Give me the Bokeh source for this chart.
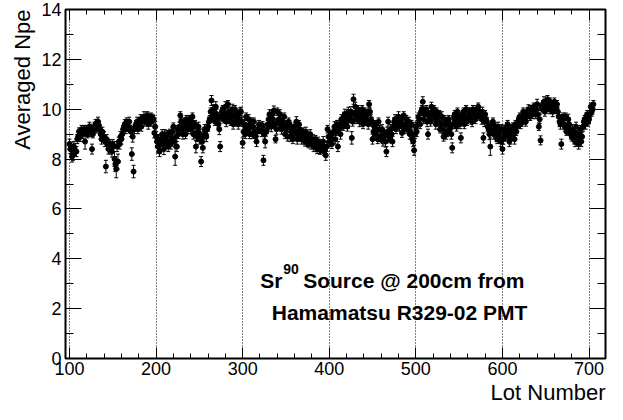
import math
from bokeh.plotting import figure
from bokeh.models import (ColumnDataSource, Whisker, TeeHead, Label, LinearAxis,
                          FixedTicker, Range1d, Title)
from bokeh.embed import file_html
from bokeh.resources import INLINE

# ---------------- data ----------------
# even lots 100, 102, ..., 704
npe_even = [
    8.6, 8.5, 8.2, 8.4, 8.3, 8.9, 9.0, 9.2, 9.1, 8.7,
    9.2, 9.1, 9.25, 8.4, 9.2, 9.4, 9.45, 9.35, 9.0, 9.1,
    8.9, 7.7, 8.6, 8.5, 8.4, 8.6, 8.0, 7.6, 7.9, 8.6,
    8.8, 9.2, 9.4, 9.5, 9.3, 9.2, 8.2, 7.5, 9.3, 9.5,
    9.4, 9.6, 9.5, 9.7, 9.6, 9.75, 9.5, 9.7, 9.65, 9.05,
    8.9, 8.5, 8.3, 8.8, 8.6, 9.0, 8.7, 8.5, 9.05, 8.8,
    9.3, 8.1, 8.5, 9.0, 9.75, 9.2, 9.5, 9.0, 9.4, 9.6,
    9.2, 9.7, 9.3, 8.5, 9.1, 8.8, 7.9, 8.45, 9.2, 8.9,
    9.3, 9.6, 10.35, 10.0, 9.5, 9.8, 9.4, 8.5, 9.9, 9.6,
    10.1, 9.7, 9.9, 9.5, 10.0, 9.7, 9.5, 9.8, 9.6, 9.9,
    8.65, 9.4, 9.7, 9.2, 9.0, 9.5, 9.3, 9.1, 8.7, 9.2,
    9.3, 9.1, 7.95, 8.7, 9.2, 9.6, 9.5, 9.8, 9.95, 8.8,
    9.9, 9.6, 9.3, 9.5, 9.7, 9.2, 8.9, 9.4, 9.1, 8.8,
    9.3, 9.5, 9.0, 9.2, 8.8, 9.1, 8.7, 8.9, 8.6, 9.0,
    8.7, 8.5, 8.8, 8.4, 8.6, 8.35, 8.5, 8.3, 8.15, 9.2,
    8.7, 9.0, 8.8, 9.3, 9.1, 8.5, 9.4, 9.6, 9.3, 9.8,
    9.5, 9.9, 9.6, 8.85, 10.4, 10.1, 9.7, 9.9, 9.6, 10.0,
    9.7, 9.5, 9.8, 10.2, 9.6, 8.8, 9.3, 9.0, 8.8, 9.2,
    8.9, 8.7, 9.0, 8.3, 9.5, 8.8, 9.0, 9.3, 9.6, 9.4,
    9.7, 9.5, 9.05, 9.75, 9.4, 9.2, 9.5, 9.1, 8.8, 8.35,
    9.3, 9.4, 9.6, 9.9, 10.3, 9.8, 10.0, 9.0, 9.7, 10.1,
    9.8, 9.6, 9.9, 9.5, 9.2, 9.7, 8.9, 9.4, 9.1, 9.6,
    9.3, 8.45, 9.7, 9.5, 9.9, 9.6, 8.85, 9.8, 9.4, 10.0,
    9.7, 9.9, 9.6, 10.0, 9.8, 9.7, 10.1, 9.9, 9.6, 8.85,
    9.8, 9.5, 9.2, 8.5, 9.4, 9.0, 9.3, 8.8, 9.1, 8.7,
    8.4, 9.2, 8.9, 9.4, 8.7, 9.0, 9.3, 8.8, 9.1, 9.5,
    9.7, 9.5, 9.9, 9.6, 9.8, 10.0, 9.7, 9.9, 10.1, 9.8,
    10.2, 9.3, 8.75, 10.0, 10.3, 10.1, 10.4, 10.0, 10.2, 9.9,
    10.3, 10.1, 9.9, 9.5, 8.6, 9.7, 9.3, 9.1, 9.6, 9.2,
    8.9, 9.1, 8.7, 9.0, 8.6, 9.2, 8.9, 9.5, 9.4, 9.8,
    9.6, 10.1, 10.0,
]
err_even = [
    20, 18, 25, 22, 20, 20, 18, 15, 15, 30,
    15, 18, 15, 20, 15, 18, 15, 15, 20, 18,
    20, 25, 20, 22, 20, 18, 30, 35, 30, 20,
    20, 15, 18, 15, 20, 15, 25, 25, 15, 18,
    15, 18, 15, 20, 15, 15, 18, 15, 15, 20,
    20, 25, 20, 15, 20, 18, 15, 20, 15, 18,
    15, 35, 20, 18, 15, 20, 15, 18, 15, 15,
    18, 15, 20, 25, 18, 20, 20, 20, 18, 20,
    18, 15, 20, 18, 15, 20, 15, 20, 18, 15,
    20, 15, 18, 15, 20, 15, 18, 15, 15, 18,
    20, 18, 15, 20, 18, 15, 20, 15, 20, 15,
    15, 20, 20, 25, 18, 15, 20, 15, 18, 15,
    15, 20, 18, 15, 15, 20, 18, 15, 20, 18,
    15, 20, 18, 15, 20, 15, 18, 20, 15, 18,
    15, 20, 15, 18, 20, 15, 18, 15, 20, 15,
    20, 15, 18, 20, 15, 20, 15, 18, 15, 20,
    15, 18, 15, 25, 20, 18, 20, 15, 18, 15,
    18, 15, 20, 15, 18, 20, 15, 20, 18, 15,
    20, 18, 15, 20, 18, 15, 20, 15, 18, 15,
    20, 15, 18, 15, 20, 15, 18, 15, 18, 20,
    18, 15, 20, 15, 20, 18, 15, 20, 15, 18,
    15, 20, 15, 18, 15, 20, 18, 15, 20, 15,
    18, 20, 15, 18, 15, 20, 20, 15, 18, 15,
    18, 15, 20, 15, 18, 15, 15, 18, 20, 20,
    15, 18, 20, 35, 15, 20, 15, 18, 15, 20,
    20, 15, 18, 15, 20, 18, 15, 20, 15, 18,
    15, 18, 15, 20, 15, 18, 15, 20, 15, 18,
    20, 15, 18, 15, 20, 15, 15, 18, 15, 20,
    15, 18, 15, 20, 20, 15, 18, 15, 20, 15,
    18, 15, 20, 15, 20, 15, 18, 15, 20, 15,
    18, 15, 20,
]
# odd lots 101, 103, ..., 705
npe_odd = [
    8.4, 8.1, 8.5, 8.3, 8.8, 9.1, 8.9, 9.0, 9.2, 9.1,
    9.0, 9.3, 9.1, 9.0, 9.3, 9.2, 9.5, 9.2, 8.8, 8.9,
    8.7, 8.8, 8.4, 8.6, 8.3, 8.5, 7.8, 8.5, 8.7, 8.9,
    9.0, 9.3, 9.2, 9.4, 9.5, 9.1, 8.9, 9.2, 9.4, 9.2,
    9.5, 9.3, 9.6, 9.5, 9.7, 9.4, 9.6, 9.5, 9.6, 9.3,
    8.7, 8.8, 8.6, 9.0, 8.4, 8.8, 9.0, 8.7, 8.6, 9.1,
    8.7, 8.9, 9.2, 9.3, 9.5, 9.0, 9.3, 9.6, 9.2, 9.4,
    9.5, 9.0, 9.4, 8.9, 9.3, 9.0, 8.7, 8.9, 9.0, 9.2,
    9.5, 9.9, 9.7, 9.8, 10.1, 9.6, 9.2, 9.7, 10.0, 9.8,
    9.5, 10.2, 9.6, 9.8, 9.4, 10.0, 9.7, 9.4, 9.9, 9.5,
    9.1, 9.0, 9.3, 9.6, 9.3, 9.0, 9.5, 8.9, 9.1, 9.4,
    9.2, 9.35, 9.0, 9.1, 9.4, 9.8, 9.3, 9.6, 9.4, 9.2,
    9.5, 9.8, 9.2, 9.4, 9.0, 9.3, 9.5, 8.9, 9.2, 9.0,
    9.1, 8.8, 9.4, 8.9, 9.0, 8.8, 9.1, 8.7, 8.8, 8.6,
    8.8, 8.6, 8.5, 8.7, 8.4, 8.6, 8.7, 8.4, 8.5, 8.9,
    8.9, 8.6, 9.1, 8.8, 9.4, 9.2, 9.0, 9.5, 9.7, 9.4,
    9.3, 9.7, 9.9, 9.5, 9.8, 9.6, 10.0, 9.5, 9.8, 9.4,
    9.9, 9.6, 9.4, 9.9, 9.5, 9.1, 9.4, 9.2, 9.5, 8.9,
    9.2, 8.9, 8.7, 9.1, 8.9, 9.2, 8.7, 9.5, 9.2, 9.6,
    9.3, 9.6, 9.4, 9.2, 9.6, 9.3, 9.0, 9.4, 8.7, 9.0,
    9.1, 9.7, 9.4, 10.0, 9.6, 9.9, 9.5, 9.8, 9.5, 9.9,
    10.0, 9.4, 9.7, 9.8, 9.4, 9.2, 9.6, 9.0, 9.5, 9.2,
    9.0, 9.4, 9.8, 9.3, 9.7, 9.4, 9.6, 9.9, 9.7, 9.5,
    9.9, 9.8, 9.5, 9.9, 9.6, 10.0, 9.8, 9.7, 9.9, 9.5,
    9.6, 9.3, 9.0, 9.2, 9.5, 9.2, 8.9, 9.3, 8.9, 9.2,
    8.8, 9.0, 9.3, 9.1, 8.8, 9.2, 9.0, 9.4, 9.3, 9.6,
    9.4, 9.7, 9.8, 9.5, 9.9, 9.8, 10.0, 9.8, 9.9, 10.0,
    9.8, 9.6, 10.1, 10.2, 9.9, 10.2, 10.1, 10.3, 10.0, 10.2,
    10.0, 10.2, 9.7, 9.4, 9.6, 9.4, 9.7, 9.2, 9.4, 9.0,
    9.2, 8.8, 9.3, 8.8, 9.0, 8.7, 9.3, 9.6, 9.7, 9.5,
    9.8, 9.9, 10.2,
]
err_odd = [
    18, 22, 20, 20, 18, 15, 20, 18, 15, 18,
    15, 18, 20, 15, 18, 15, 18, 15, 20, 18,
    20, 18, 20, 18, 22, 20, 30, 20, 18, 20,
    18, 15, 18, 15, 18, 20, 22, 18, 15, 18,
    15, 18, 15, 18, 15, 20, 15, 18, 15, 20,
    20, 18, 20, 18, 22, 18, 15, 20, 20, 18,
    20, 18, 15, 18, 15, 20, 18, 15, 18, 15,
    18, 20, 15, 20, 18, 20, 22, 20, 18, 20,
    18, 15, 18, 15, 20, 18, 22, 18, 15, 18,
    20, 15, 18, 15, 20, 15, 18, 20, 15, 18,
    20, 18, 15, 18, 20, 18, 15, 20, 18, 15,
    18, 15, 20, 18, 15, 18, 20, 15, 18, 20,
    15, 18, 20, 15, 18, 20, 15, 20, 18, 20,
    18, 20, 15, 20, 18, 20, 18, 20, 18, 20,
    18, 20, 20, 18, 20, 18, 20, 18, 20, 18,
    20, 18, 15, 20, 15, 18, 20, 15, 18, 15,
    18, 15, 20, 18, 15, 18, 15, 20, 15, 18,
    15, 18, 20, 15, 18, 20, 15, 18, 15, 20,
    18, 20, 22, 18, 20, 18, 20, 15, 18, 15,
    18, 15, 20, 18, 15, 18, 20, 15, 20, 18,
    20, 15, 18, 15, 18, 15, 20, 15, 18, 15,
    15, 20, 18, 15, 20, 18, 15, 20, 18, 20,
    20, 18, 15, 18, 15, 18, 15, 15, 18, 15,
    15, 18, 20, 15, 18, 15, 18, 15, 18, 20,
    18, 20, 22, 18, 15, 18, 20, 18, 20, 18,
    20, 18, 15, 18, 20, 18, 20, 15, 18, 15,
    18, 15, 15, 18, 15, 18, 15, 18, 15, 15,
    15, 18, 15, 15, 18, 15, 18, 15, 18, 15,
    18, 15, 18, 20, 18, 20, 15, 20, 18, 20,
    18, 20, 18, 20, 18, 20, 18, 15, 15, 18,
    15, 18, 15,
]
lots_even = list(range(100, 706, 2))
lots_odd = list(range(101, 706, 2))

x_major_ticks = [100, 200, 300, 400, 500, 600, 700]
x_minor_ticks = list(range(100, 720, 20))
y_major_ticks = [0, 2, 4, 6, 8, 10, 12, 14]
y_minor_ticks = list(range(0, 15))
x_title = "Lot Number"
y_title = "Averaged Npe"
note_line1_a = "Sr"
note_line1_sup = "90"
note_line1_b = "Source @ 200cm from"
note_line2 = "Hamamatsu R329-02 PMT"

FONT = "Liberation Sans"

xs = lots_even + lots_odd
ys = npe_even + npe_odd
es = [e / 100.0 for e in err_even + err_odd]
src = ColumnDataSource(dict(
    x=xs, y=ys,
    upper=[v + e for v, e in zip(ys, es)],
    lower=[v - e for v, e in zip(ys, es)],
))

W, H = 607, 404
p = figure(width=W, height=H, output_backend="svg", toolbar_location=None,
           x_range=Range1d(95.4, 719.0), y_range=Range1d(0, 14),
           min_border_left=65, min_border_right=2, min_border_top=9, min_border_bottom=0,
           background_fill_color="white", border_fill_color="white")
p.outline_line_color = "black"
p.outline_line_width = 2

for ax in (p.xaxis[0], p.yaxis[0]):
    ax.axis_line_color = None
    ax.major_tick_out = 0
    ax.minor_tick_out = 0
    ax.major_tick_line_color = "black"
    ax.minor_tick_line_color = "black"
    ax.major_label_text_font = FONT
    ax.major_label_text_font_size = "18px"
    ax.major_label_text_color = "black"

p.xaxis[0].ticker = FixedTicker(ticks=x_major_ticks, minor_ticks=x_minor_ticks)
p.xaxis[0].major_tick_in = 11
p.xaxis[0].minor_tick_in = 5
p.xaxis[0].major_label_standoff = 3
p.yaxis[0].ticker = FixedTicker(ticks=y_major_ticks, minor_ticks=y_minor_ticks)
p.yaxis[0].major_tick_in = 16
p.yaxis[0].minor_tick_in = 8
p.yaxis[0].major_label_standoff = 4

top = LinearAxis(ticker=FixedTicker(ticks=x_major_ticks, minor_ticks=x_minor_ticks),
                 major_label_overrides={t: "" for t in x_major_ticks})
right = LinearAxis(ticker=FixedTicker(ticks=y_major_ticks, minor_ticks=y_minor_ticks),
                   major_label_overrides={t: "" for t in y_major_ticks})
for ax, tin, mtin in ((top, 11, 5), (right, 16, 8)):
    ax.axis_line_color = None
    ax.major_tick_out = 0
    ax.minor_tick_out = 0
    ax.major_tick_in = tin
    ax.minor_tick_in = mtin
    ax.major_label_standoff = 0
    ax.major_label_text_font_size = "1px"
p.add_layout(top, "above")
p.add_layout(right, "right")

# axis titles, ROOT style (right / top aligned)
p.add_layout(Title(text=x_title, align="right", text_font=FONT, text_font_size="22px",
                   text_font_style="normal", text_color="black", standoff=0, offset=0),
             "below")
p.add_layout(Title(text=y_title, align="right", text_font=FONT, text_font_size="22px",
                   text_font_style="normal", text_color="black", standoff=8, offset=0),
             "left")

p.xgrid.grid_line_color = "black"
p.xgrid.grid_line_dash = "1 2"
p.xgrid.grid_line_width = 1
p.ygrid.grid_line_color = None

p.add_layout(Whisker(source=src, base="x", upper="upper", lower="lower", dimension="height",
                     line_color="black", line_width=1,
                     upper_head=TeeHead(size=4, line_color="black", line_width=1),
                     lower_head=TeeHead(size=4, line_color="black", line_width=1)))
p.scatter("x", "y", source=src, size=5, marker="circle", color="black")

# annotation text
p.add_layout(Label(x=320.2, y=3.13, text=note_line1_a, text_font=FONT, text_font_size="21px",
                   text_font_style="bold", text_baseline="alphabetic", text_color="black"))
p.add_layout(Label(x=320.2, y=3.13, x_offset=23, y_offset=11, text=note_line1_sup,
                   text_font=FONT, text_font_size="14px", text_font_style="bold",
                   text_baseline="alphabetic", text_color="black"))
p.add_layout(Label(x=320.2, y=3.13, x_offset=43, text=note_line1_b, text_font=FONT,
                   text_font_size="21px", text_font_style="bold", text_baseline="alphabetic",
                   text_color="black"))
p.add_layout(Label(x=333.6, y=1.86, text=note_line2, text_font=FONT, text_font_size="21px",
                   text_font_style="bold", text_baseline="alphabetic", text_color="black"))

open("out.html", "w").write(file_html(p, INLINE))
